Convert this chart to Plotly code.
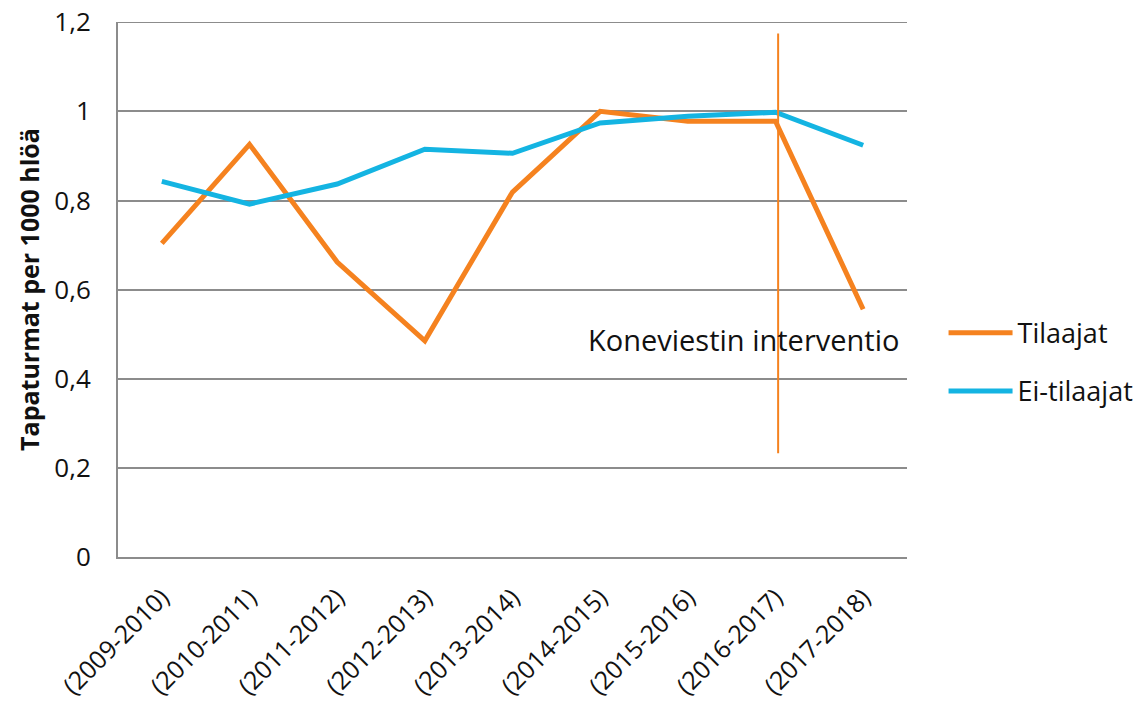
import plotly.graph_objects as go

# Data
SEASONS = ["(2009-2010)", "(2010-2011)", "(2011-2012)", "(2012-2013)", "(2013-2014)",
           "(2014-2015)", "(2015-2016)", "(2016-2017)", "(2017-2018)"]
TILAAJAT = [0.704, 0.926, 0.662, 0.485, 0.819, 1.0, 0.978, 0.978, 0.556]
EI_TILAAJAT = [0.843, 0.792, 0.837, 0.915, 0.906, 0.974, 0.989, 0.998, 0.924]
Y_TICKS = [0, 0.2, 0.4, 0.6, 0.8, 1, 1.2]

INTERVENTION_X = 7.03          # category index, just right of (2016-2017)
INTERVENTION_Y = [0.233, 1.175]
INTERVENTION_LABEL = "Koneviestin interventio"

ORANGE = "#F5821F"
BLUE = "#14B4E2"
GRID = "#8C8C8C"
FONT = "Open Sans, Lato, sans-serif"

fig = go.Figure()
# top gridline is dropped by plotly at the range edge, so draw it explicitly
fig.add_hline(y=Y_TICKS[-1], line=dict(color=GRID, width=1.5), layer="below")
fig.add_trace(go.Scatter(
    x=list(range(len(SEASONS))), y=TILAAJAT, mode="lines", name="Tilaajat",
    legendgroup="t", line=dict(color=ORANGE, width=5),
))
fig.add_trace(go.Scatter(
    x=list(range(len(SEASONS))), y=EI_TILAAJAT, mode="lines", name="Ei-tilaajat",
    legendgroup="e", line=dict(color=BLUE, width=5),
))
fig.add_trace(go.Scatter(
    x=[INTERVENTION_X, INTERVENTION_X], y=INTERVENTION_Y, mode="lines",
    line=dict(color=ORANGE, width=2), showlegend=False, hoverinfo="skip",
))

fig.add_annotation(
    x=6.64, y=0.487, xref="x", yref="y", text=INTERVENTION_LABEL,
    showarrow=False, font=dict(family=FONT, size=29, color="#111"),
)

# page body adds ~8px offset, margins compensate
fig.update_layout(
    width=1142, height=706,
    margin=dict(l=110, r=242, t=14, b=157),
    plot_bgcolor="white", paper_bgcolor="white",
    separators=", ",
    font=dict(family=FONT, color="#111"),
    legend=dict(x=1.045, y=0.364, xanchor="left", yanchor="middle",
                font=dict(size=27), tracegroupgap=20, itemwidth=64),
    xaxis=dict(
        range=[-0.5, len(SEASONS) - 0.5], automargin=False,
        tickmode="array", tickvals=list(range(len(SEASONS))), ticktext=SEASONS,
        tickangle=-45, tickfont=dict(size=25), showgrid=False,
        ticks="outside", ticklen=14, tickcolor="rgba(0,0,0,0)",
        showline=True, linecolor=GRID, linewidth=2, zeroline=False,
    ),
    yaxis=dict(
        range=[0, 1.2006], tickmode="array", tickvals=Y_TICKS, automargin=False,
        ticklabeloverflow="allow",
        tickfont=dict(size=26), ticks="outside", ticklen=20, tickcolor="rgba(0,0,0,0)",
        showgrid=True, gridcolor=GRID, gridwidth=1.5,
        showline=True, linecolor=GRID, linewidth=2, zeroline=False,
        title=dict(text="<b>Tapaturmat per 1000 hlöä</b>", font=dict(size=25), standoff=8),
    ),
)

fig.write_html("out.html")
